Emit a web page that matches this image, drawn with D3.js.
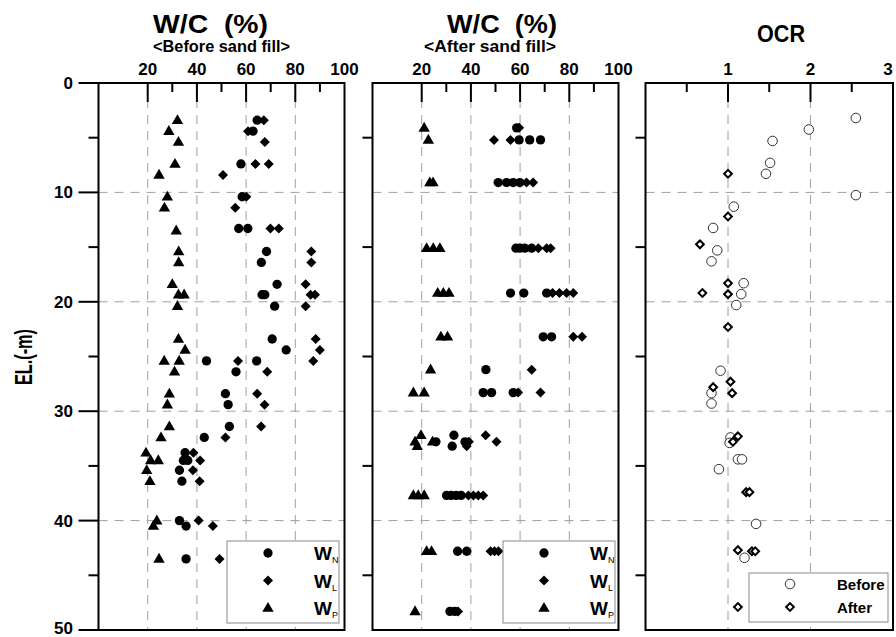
<!DOCTYPE html>
<html><head><meta charset="utf-8">
<script src="https://cdn.jsdelivr.net/npm/d3@7"></script>
<style>
html,body{margin:0;padding:0;background:#fff;}
text{font-family:"Liberation Sans",Arial,sans-serif;font-weight:bold;fill:#000;}
</style></head>
<body><svg id="chart" width="896" height="637"></svg>
<script>
// ---------------- data ----------------
const depthTicks = [0, 10, 20, 30, 40, 50];
const depthMinorTicks = [5, 15, 25, 35, 45];
const wcTicks = [20, 40, 60, 80];
const wcMinorTicks = [30, 50, 70, 90];
const wcTickLabels = ["20", "40", "60", "80", "100"];
const ocrTicks = [1, 2];
const ocrMinorTicks = [0.5, 1.5, 2.5];
const ocrTickLabels = ["1", "2", "3"];

// panel 1 : before sand fill  [water content %, depth m]
const beforeWN = [[64.5,3.4],[62.8,4.4],[57.9,7.4],[58.4,10.4],[57.0,13.3],[60.7,13.3],[68.3,15.4],[66.2,16.4],[72.6,18.4],[66.5,19.35],[67.6,19.35],[71.6,20.4],[70.6,23.4],[76.3,24.4],[43.9,25.4],[64.3,25.4],[55.9,26.4],[51.6,28.4],[52.7,29.4],[53.2,31.4],[43.0,32.4],[35.2,33.8],[34.5,34.5],[36.3,34.5],[32.9,35.4],[33.9,36.4],[32.9,40.0],[35.6,40.5],[35.6,43.5]];
const beforeWL = [[67.2,3.4],[60.8,4.4],[67.6,5.4],[63.8,7.4],[69.2,7.4],[50.6,8.4],[60.1,10.4],[55.6,11.4],[69.9,13.3],[73.3,13.3],[86.5,15.4],[86.5,16.4],[84.2,18.4],[86.2,19.35],[88.0,19.35],[84.2,20.4],[88.3,23.4],[90.0,24.4],[56.7,25.4],[87.3,25.4],[68.6,26.4],[64.5,28.4],[67.5,29.4],[66.1,31.4],[51.6,32.4],[38.6,33.8],[41.3,34.5],[38.4,35.4],[41.1,36.4],[40.7,40.0],[46.5,40.5],[49.2,43.5]];
const beforeWP = [[32.1,3.4],[28.6,4.4],[32.5,5.4],[31.1,7.4],[24.6,8.4],[28.0,10.4],[26.8,11.4],[31.6,13.5],[32.6,15.4],[32.6,16.4],[30.0,18.4],[32.5,19.35],[34.8,19.35],[32.1,20.4],[32.5,23.4],[35.2,24.4],[26.7,25.4],[32.8,25.4],[30.9,26.4],[28.8,28.4],[28.0,29.4],[28.8,31.4],[25.4,32.4],[19.3,33.8],[21.2,34.5],[24.3,34.5],[19.6,35.4],[20.9,36.4],[23.7,40.0],[22.3,40.5],[24.6,43.5]];

// panel 2 : after sand fill
const afterWN = [[58.6,4.1],[59.6,5.2],[63.9,5.2],[68.3,5.2],[51.1,9.1],[54.5,9.1],[57.2,9.1],[59.9,9.1],[58.3,15.1],[59.9,15.1],[61.9,15.1],[64.7,15.1],[56.1,19.2],[61.5,19.2],[70.8,19.2],[69.4,23.2],[72.8,23.2],[46.1,26.2],[45.0,28.3],[48.4,28.3],[57.2,28.3],[33.1,32.2],[25.8,32.8],[37.6,32.8],[32.4,33.2],[30.1,37.7],[32.0,37.7],[34.0,37.7],[36.0,37.7],[34.6,42.8],[38.3,42.8],[31.5,48.3],[33.5,48.3]];
const afterWL = [[59.6,4.1],[49.4,5.2],[56.1,5.2],[62.6,9.1],[65.3,9.1],[67.4,15.1],[70.8,15.1],[72.4,15.1],[73.2,19.2],[76.0,19.2],[78.9,19.2],[81.6,19.2],[81.6,23.2],[85.2,23.2],[64.7,26.2],[59.2,28.3],[68.3,28.3],[46.0,32.2],[39.2,32.8],[50.4,32.8],[38.3,33.2],[39.0,37.7],[41.0,37.7],[43.0,37.7],[45.0,37.7],[48.0,42.8],[49.6,42.8],[51.2,42.8],[34.8,48.3]];
const afterWP = [[21.0,4.1],[22.7,5.2],[23.3,9.1],[24.6,9.1],[22.0,15.1],[24.7,15.1],[27.4,15.1],[26.5,19.2],[28.8,19.2],[31.1,19.2],[27.8,23.2],[30.5,23.2],[23.6,26.2],[16.6,28.3],[21.0,28.3],[19.7,32.2],[17.3,32.8],[24.4,32.8],[18.2,33.2],[16.6,37.7],[18.6,37.7],[21.0,37.7],[22.0,42.8],[24.0,42.8],[17.3,48.3]];

// panel 3 : OCR
const ocrBefore = [[2.55,3.2],[1.98,4.25],[1.54,5.3],[1.51,7.3],[1.46,8.3],[2.55,10.25],[1.07,11.3],[0.82,13.25],[0.87,15.3],[0.80,16.3],[1.19,18.3],[1.16,19.3],[1.10,20.3],[0.91,26.3],[0.80,28.35],[0.80,29.3],[1.03,32.4],[1.02,32.9],[1.12,34.4],[1.17,34.4],[0.89,35.3],[1.34,40.3],[1.20,43.4]];
const ocrAfter = [[1.0,8.3],[1.0,12.2],[0.66,14.75],[1.0,18.3],[0.69,19.2],[1.0,19.3],[1.0,22.3],[1.03,27.3],[0.82,27.8],[1.05,28.35],[1.12,32.3],[1.06,32.8],[1.22,37.4],[1.26,37.4],[1.12,42.7],[1.29,42.8],[1.33,42.8],[1.12,47.9]];

// ---------------- drawing ----------------
const svg = d3.select("#chart");
const yTop = 83, yBot = 630;
const y = d3.scaleLinear().domain([0, 50]).range([yTop, yBot]);

const sym = {
  circle: d3.symbol().type(d3.symbolCircle).size(68)(),
  diamond: d3.symbol().type(d3.symbolSquare).size(50)(),
  triangle: d3.symbol().type(d3.symbolTriangle).size(56)(),
  ocircle: d3.symbol().type(d3.symbolCircle).size(72)(),
  odiamond: d3.symbol().type(d3.symbolSquare).size(30)()
};
function drawMarker(g, kind, cx, cy) {
  const p = g.append("path").attr("d", sym[kind]);
  if (kind === "diamond" || kind === "odiamond") p.attr("transform", `translate(${cx},${cy}) rotate(45)`);
  else if (kind === "triangle") p.attr("transform", `translate(${cx},${cy+0.5})`);
  else p.attr("transform", `translate(${cx},${cy})`);
  if (kind === "ocircle") p.attr("fill", "#fff").attr("stroke", "#333").attr("stroke-width", 1);
  else if (kind === "odiamond") p.attr("fill", "#fff").attr("stroke", "#000").attr("stroke-width", 2);
  else p.attr("fill", "#000");
}

function panel(opt) {
  const x = d3.scaleLinear().domain(opt.domain).range([opt.x0, opt.x1]);
  const g = svg.append("g");
  const grid = g.append("g").attr("stroke", "#a0a0a0").attr("stroke-width", 1).attr("stroke-dasharray", "9,7");
  opt.major.forEach(v => grid.append("line").attr("x1", x(v)).attr("x2", x(v)).attr("y1", yTop).attr("y2", yBot));
  [10, 20, 30, 40].forEach(v => grid.append("line").attr("x1", opt.x0).attr("x2", opt.x1).attr("y1", y(v)).attr("y2", y(v)));
  const ax = g.append("g").attr("stroke", "#000").attr("stroke-width", 2);
  opt.major.forEach(v => ax.append("line").attr("x1", x(v)).attr("x2", x(v)).attr("y1", yTop).attr("y2", yTop + 19));
  opt.minor.forEach(v => ax.append("line").attr("x1", x(v)).attr("x2", x(v)).attr("y1", yTop).attr("y2", yTop + 9));
  if (opt.yLabels) {
    depthTicks.forEach(v => ax.append("line").attr("x1", opt.x0 - 20).attr("x2", opt.x0).attr("y1", y(v)).attr("y2", y(v)));
  }
  depthMinorTicks.forEach(v => ax.append("line").attr("x1", opt.x0 - 10).attr("x2", opt.x0).attr("y1", y(v)).attr("y2", y(v)));
  opt.labelVals.forEach((v, i) => g.append("text").attr("x", Math.min(x(v), 888)).attr("y", 75).attr("text-anchor", "middle")
    .attr("font-size", 17).text(opt.labels[i]));
  if (opt.yLabels) {
    depthTicks.forEach(v => g.append("text").attr("x", 73).attr("y", Math.min(y(v) + 6, 634)).attr("text-anchor", "end")
      .attr("font-size", 17).text(v));
  }
  const dg = g.append("g");
  opt.series.forEach(s => s.data.forEach(d => drawMarker(dg, s.kind, x(d[0]), y(d[1]))));
  g.append("rect").attr("x", opt.x0).attr("y", yTop).attr("width", opt.x1 - opt.x0).attr("height", yBot - yTop)
    .attr("fill", "none").attr("stroke", "#000").attr("stroke-width", 2);
  const L = opt.legend;
  const lg = g.append("g");
  lg.append("rect").attr("x", L.x).attr("y", L.y).attr("width", L.w).attr("height", L.h)
    .attr("fill", "#fff").attr("stroke", "#888").attr("stroke-width", 1);
  L.items.forEach((it, i) => {
    const cy = L.y + L.first + i * L.step;
    drawMarker(lg, it.kind, L.mx, cy);
    const t = lg.append("text").attr("x", L.tx).attr("y", cy + L.dy).attr("font-size", L.fs);
    t.append("tspan").text(it.main);
    if (it.sub) t.append("tspan").attr("font-size", 9).attr("dy", 3).attr("font-weight", "normal").text(it.sub);
  });
  return x;
}

const wnLegend = [{kind: "circle", main: "W", sub: "N"}, {kind: "diamond", main: "W", sub: "L"}, {kind: "triangle", main: "W", sub: "P"}];

panel({domain: [0, 100], x0: 98.5, x1: 344.5, major: wcTicks, minor: wcMinorTicks,
  labelVals: [20, 40, 60, 80, 100], labels: wcTickLabels, yLabels: true,
  series: [{kind: "circle", data: beforeWN}, {kind: "diamond", data: beforeWL}, {kind: "triangle", data: beforeWP}],
  legend: {x: 227, y: 541, w: 112, h: 82, mx: 268, tx: 314, first: 12, step: 27.5, fs: 19, dy: 7, items: wnLegend}});

panel({domain: [0, 100], x0: 372.5, x1: 618.5, major: wcTicks, minor: wcMinorTicks,
  labelVals: [20, 40, 60, 80, 100], labels: wcTickLabels, yLabels: false,
  series: [{kind: "circle", data: afterWN}, {kind: "diamond", data: afterWL}, {kind: "triangle", data: afterWP}],
  legend: {x: 503, y: 541, w: 112, h: 82, mx: 544, tx: 590, first: 12, step: 27.5, fs: 19, dy: 7, items: wnLegend}});

panel({domain: [0, 3], x0: 645.5, x1: 893, major: ocrTicks, minor: ocrMinorTicks,
  labelVals: [1, 2, 3], labels: ocrTickLabels, yLabels: false,
  series: [{kind: "ocircle", data: ocrBefore}, {kind: "odiamond", data: ocrAfter}],
  legend: {x: 749, y: 573, w: 139, h: 49, mx: 790, tx: 837, first: 11, step: 23, fs: 15, dy: 5.5,
    items: [{kind: "ocircle", main: "Before"}, {kind: "odiamond", main: "After"}]}});

function title(x, yy, size, len, str) {
  svg.append("text").attr("x", x).attr("y", yy).attr("font-size", size).attr("xml:space", "preserve")
    .attr("textLength", len).attr("lengthAdjust", "spacingAndGlyphs").text(str);
}
title(153, 33, 26, 115, "W/C  (%)");
title(153, 52, 17, 137, "<Before sand fill>");
title(447, 33, 26, 110, "W/C  (%)");
title(424, 52, 17, 132, "<After sand fill>");
title(757, 42, 23, 48, "OCR");
svg.append("text").attr("transform", "translate(32,385) rotate(-90)").attr("font-size", 23)
  .attr("textLength", 56).attr("lengthAdjust", "spacingAndGlyphs").text("EL.(-m)");
</script></body></html>
